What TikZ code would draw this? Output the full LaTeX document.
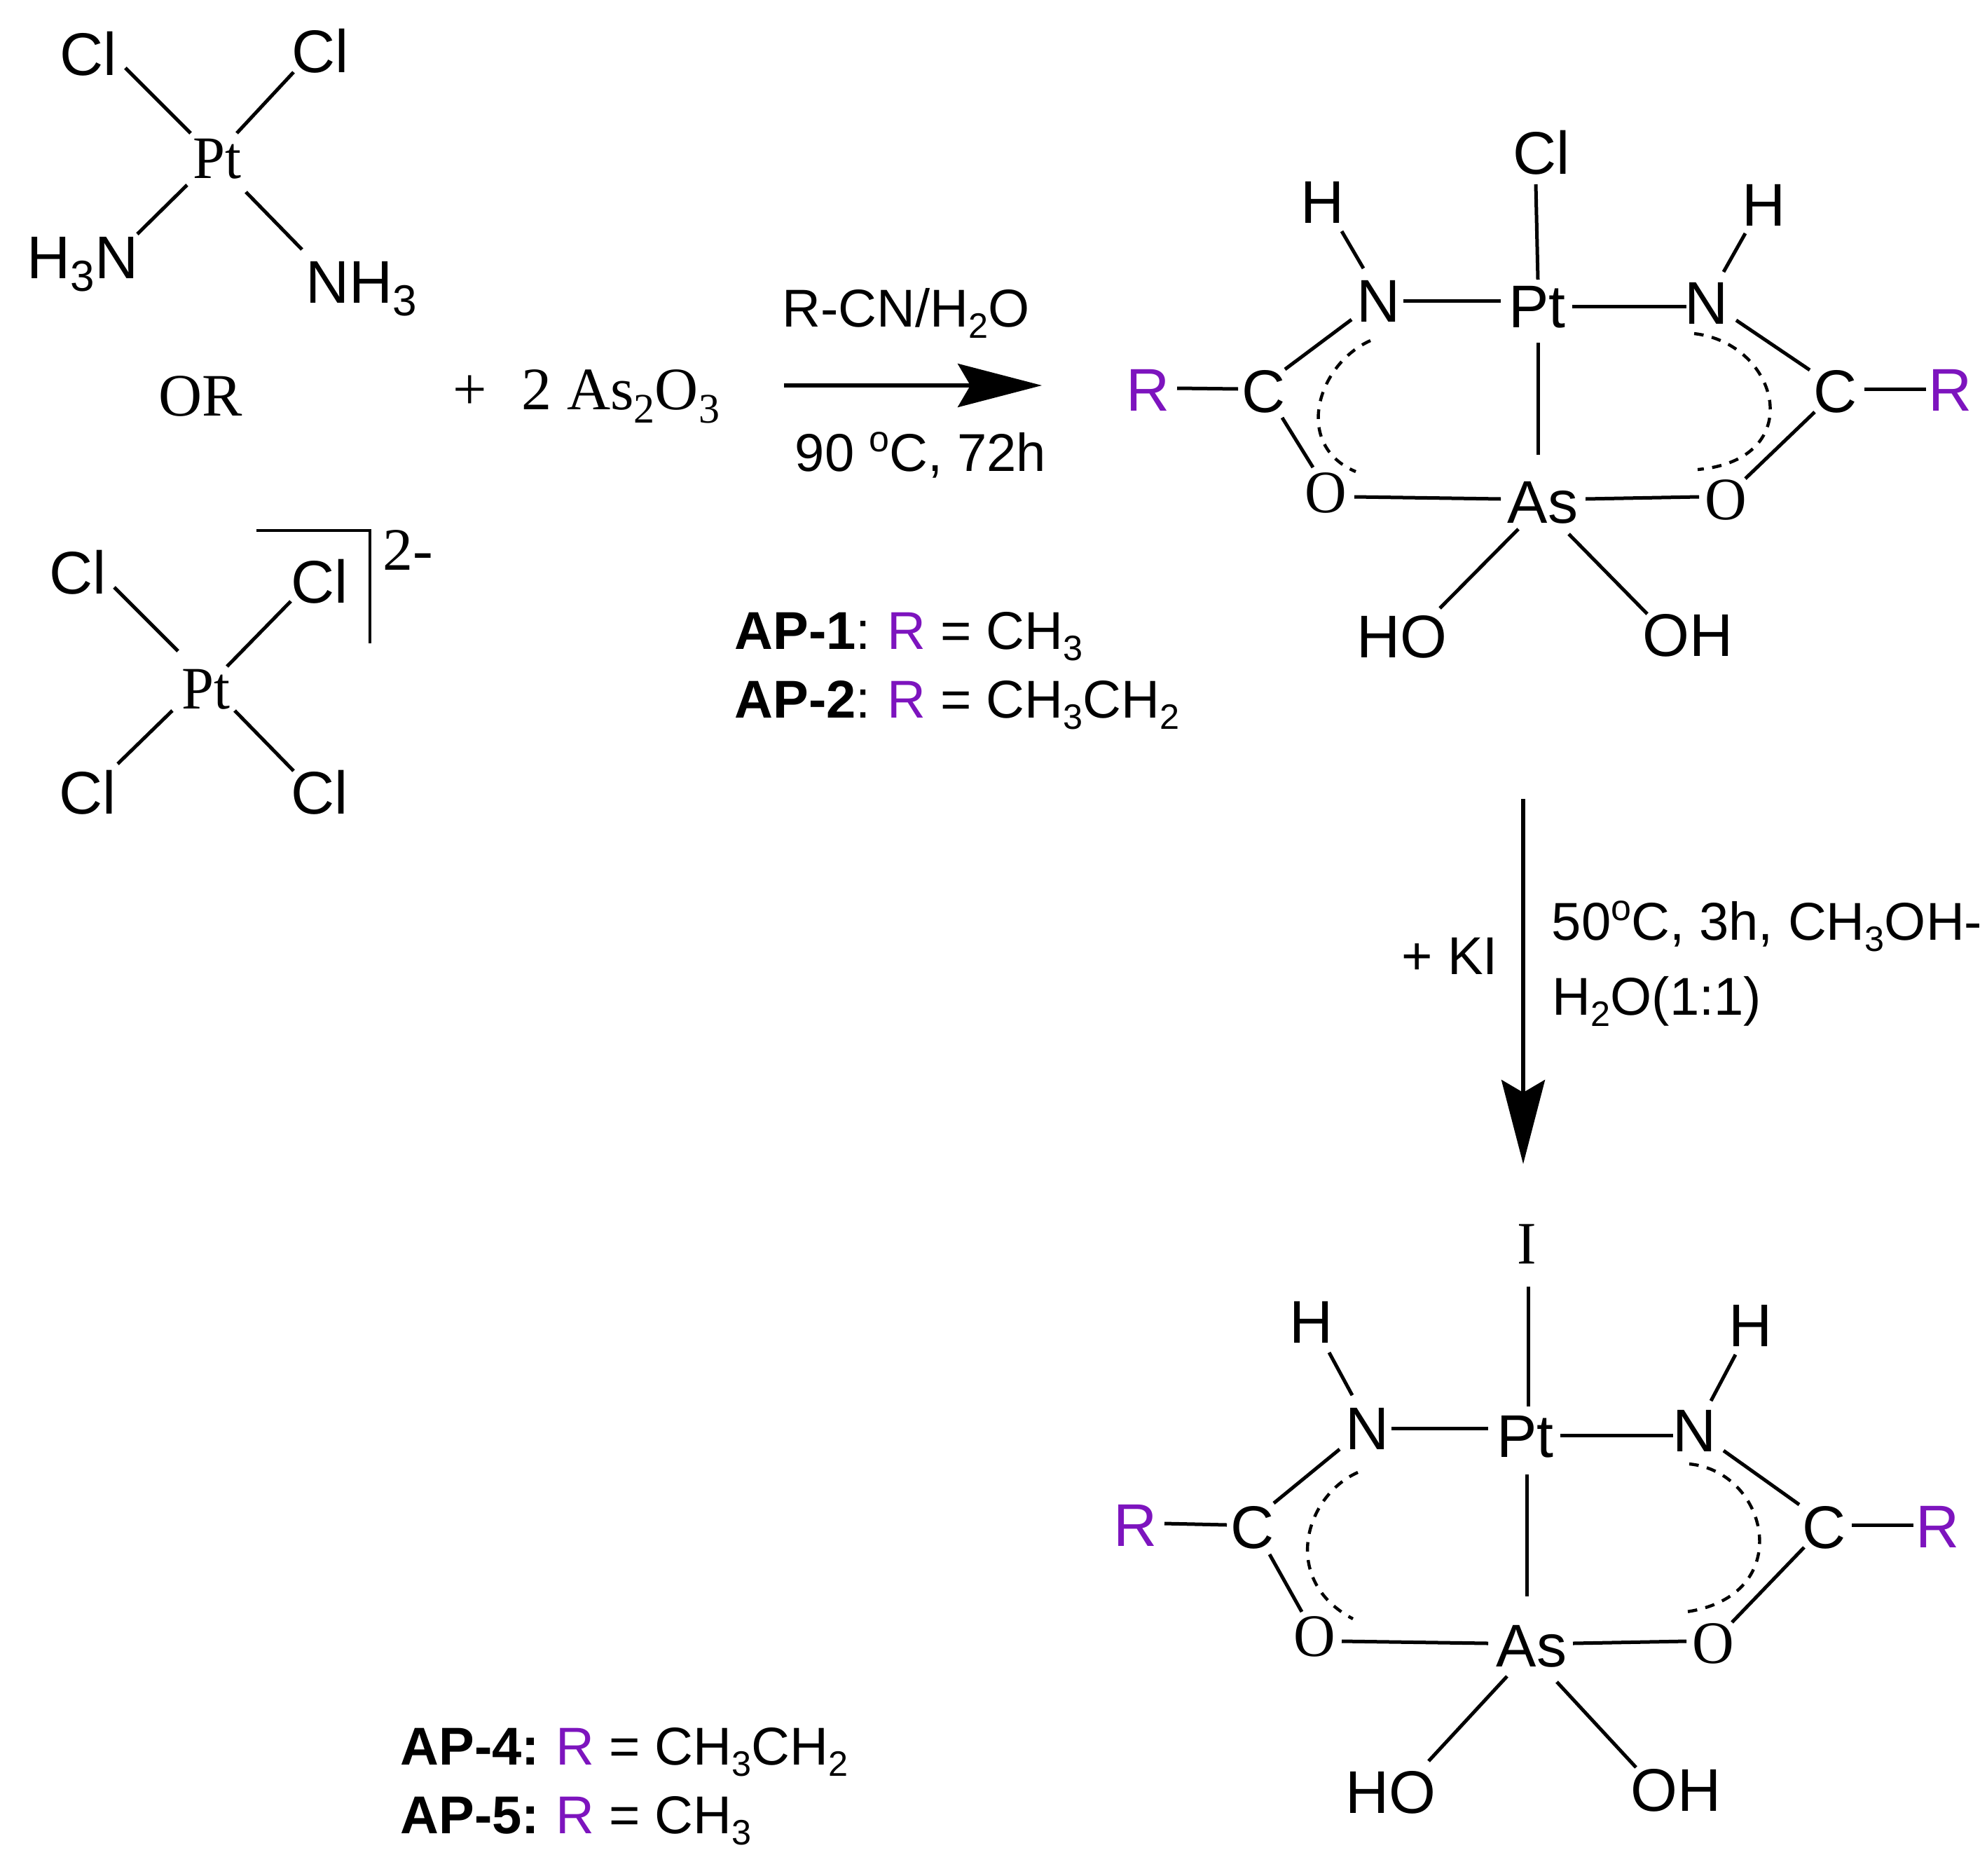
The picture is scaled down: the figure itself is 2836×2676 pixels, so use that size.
\documentclass[tikz,border=0pt]{standalone}
\usepackage{fontspec}
\setmainfont{Liberation Sans}
\newfontfamily\atomsansf{Liberation Sans}
\newfontfamily\atomseriff[FakeStretch=0.96]{Liberation Serif}
\newfontfamily\plainseriff{Liberation Serif}
\usetikzlibrary{calc,arrows.meta}
\definecolor{rpurple}{RGB}{125,20,190}
\newcommand\lsub[1]{\raisebox{-4pt}{\fontsize{12.6}{14}\selectfont #1}}
\newcommand\lsup[1]{\raisebox{6.9pt}{\fontsize{13}{14}\selectfont #1}}
\newcommand\asub[1]{\raisebox{-4.3pt}{\fontsize{15.5}{16}\selectfont #1}}
\newcommand\ssub[1]{\raisebox{-4.8pt}{\fontsize{15}{16}\selectfont #1}}
\newcommand\Rp{\hspace{-1.3pt}\textcolor{rpurple}{R}}
\tikzset{
  atom/.style={inner sep=0pt,anchor=center,text height=15.4pt,text depth=0pt,
    font=\atomsansf\fontsize{21.5}{25}\selectfont},
  atomr/.style={atom,text=rpurple},
  serifatom/.style={inner sep=0pt,anchor=center,text height=14.2pt,text depth=0pt,
    font=\atomseriff\fontsize{21.5}{25}\selectfont},
  lbl/.style={inner sep=0pt,anchor=base west,font=\fontsize{19}{22}\selectfont},
  seriflbl/.style={inner sep=0pt,font=\plainseriff\fontsize{21.5}{25}\selectfont},
  bond/.style={line width=1.25pt},
  arcbond/.style={line width=1.1pt,dash pattern=on 3.4pt off 3pt},
  rxnarrow/.style={line width=1.3pt,-{Stealth[length=30pt,width=15.5pt,inset=4.5pt]}},
  bracket/.style={line width=1.15pt}
}
\begin{document}
\begin{tikzpicture}[x=0.25pt,y=-0.25pt]
\useasboundingbox (0,0) rectangle (2836,2676);
\fill[white] (0,0) rectangle (2836,2676);
% cisplatin
\node[atom] (cl1) at (126,77) {Cl};
\node[atom] (cl2) at (457,73) {Cl};
\node[serifatom] (pt1) at (310,226) {Pt};
\node[atom] (hn1) at (118,367) {H\asub{3}N};
\node[atom] (nh1) at (516,402) {NH\asub{3}};
\draw[bond] ($(cl1)+(53,20)$) -- ($(pt1)+(-38,-36)$);
\draw[bond] ($(pt1)+(28,-36)$) -- ($(cl2)+(-38,30)$);
\draw[bond] ($(pt1)+(-43,38)$) -- ($(hn1)+(78,-33)$);
\draw[bond] ($(pt1)+(41,48)$) -- ($(nh1)+(-85,-46)$);
\node[seriflbl,anchor=base] (orl) at (286,593) {OR};
\node[seriflbl,anchor=base west] (reag) at (646,584) {+\hspace{12.4pt}2 As\ssub{2}O\ssub{3}};
% PtCl4
\node[atom] (cl3) at (111,817) {Cl};
\node[atom] (cl4) at (456,830) {Cl};
\node[serifatom] (pt2) at (294,983) {Pt};
\node[atom] (cl5) at (125,1131) {Cl};
\node[atom] (cl6) at (456,1131) {Cl};
\draw[bond] ($(cl3)+(52,21)$) -- ($(pt2)+(-40,-54)$);
\draw[bond] ($(pt2)+(30,-32)$) -- ($(cl4)+(-41,28)$);
\draw[bond] ($(pt2)+(-48,31)$) -- ($(cl5)+(43,-41)$);
\draw[bond] ($(pt2)+(41,31)$) -- ($(cl6)+(-37,-31)$);
\coordinate (br1) at (366,757);
\coordinate (br2) at (528,757);
\coordinate (br3) at (528,918);
\draw[bracket] (br1) -- (br2) -- (br3);
\node[seriflbl,anchor=base west] (chg) at (546,813) {2-};
% first arrow
\coordinate (a1s) at (1119,550);
\coordinate (a1e) at (1487,550);
\draw[rxnarrow] (a1s) -- (a1e);
\node[lbl] (c1t) at (1116,466) {R-CN/H\lsub{2}O};
\node[lbl] (c1b) at (1134,672) {90 \lsup{o}C, 72h};
\node[lbl] (ap1) at (1048,926) {\textbf{AP-1}: \Rp{} = CH\lsub{3}};
\node[lbl] (ap2) at (1048,1024) {\textbf{AP-2}: \Rp{} = CH\lsub{3}CH\lsub{2}};
% complex A
\node[atom] (cla) at (2200,218) {Cl};
\node[atom] (h1) at (1888,288) {H};
\node[atom] (n1) at (1968,429) {N};
\node[atom] (pta) at (2194,437) {Pt};
\node[atom] (n2) at (2436,432) {N};
\node[atom] (h2) at (2518,292) {H};
\node[atom] (c1) at (1804,558) {C};
\node[atomr] (r1) at (1639,556) {R};
\node[atom] (c2) at (2620,558) {C};
\node[atomr] (r2) at (2784,556) {R};
\node[serifatom] (o1) at (1892,703) {O};
\node[atom] (asa) at (2202,716) {As};
\node[serifatom] (o2) at (2463,713) {O};
\node[atom] (hoa) at (2001,908) {HO};
\node[atom] (oha) at (2409,906) {OH};
\draw[bond] ($(cla)+(-8,45)$) -- ($(pta)+(1,-38)$);
\draw[bond] ($(h1)+(27,42)$) -- ($(n1)+(-22,-46)$);
\draw[bond] ($(n1)+(35,0)$) -- ($(pta)+(-52,-8)$);
\draw[bond] ($(pta)+(50,0)$) -- ($(n2)+(-29,5)$);
\draw[bond] ($(h2)+(-27,41)$) -- ($(n2)+(24,-44)$);
\draw[bond] ($(n1)+(-39,27)$) -- ($(c1)+(30,-31)$);
\draw[bond] ($(n2)+(42,25)$) -- ($(c2)+(-37,-30)$);
\draw[bond] ($(r1)+(41,-2)$) -- ($(c1)+(-37,-3)$);
\draw[bond] ($(c2)+(41,-3)$) -- ($(r2)+(-35,-1)$);
\draw[bond] ($(c1)+(26,38)$) -- ($(o1)+(-18,-36)$);
\draw[bond] ($(c2)+(-30,30)$) -- ($(o2)+(28,-30)$);
\draw[bond] ($(o1)+(41,6)$) -- ($(asa)+(-60,-4)$);
\draw[bond] ($(asa)+(61,-4)$) -- ($(o2)+(-38,-4)$);
\draw[bond] ($(pta)+(1,52)$) -- ($(asa)+(-7,-67)$);
\draw[bond] ($(asa)+(-35,39)$) -- ($(hoa)+(54,-40)$);
\draw[bond] ($(asa)+(37,46)$) -- ($(oha)+(-58,-30)$);
\draw[arcbond] ($(n1)+(-12,57)$) .. controls (1880,520) and (1845,635) .. ($(o1)+(43,-30)$);
\draw[arcbond] ($(n2)+(-18,44)$) .. controls (2540,490) and (2582,656) .. ($(o2)+(-40,-43)$);
% second arrow
\coordinate (a2s) at (2174,1140);
\coordinate (a2e) at (2174,1661);
\draw[rxnarrow] (a2s) -- (a2e);
\node[lbl] (ki) at (2000,1390) {+ KI};
\node[lbl] (c2a) at (2214,1341) {50\lsup{o}C, 3h, CH\lsub{3}OH-};
\node[lbl] (c2b) at (2215,1448) {H\lsub{2}O(1:1)};
% complex B
\node[serifatom] (iod) at (2179,1775) {I};
\node[atom] (hb1) at (1872,1886) {H};
\node[atom] (nb1) at (1952,2038) {N};
\node[atom] (ptb) at (2177,2049) {Pt};
\node[atom] (nb2) at (2419,2041) {N};
\node[atom] (hb2) at (2499,1891) {H};
\node[atom] (cb1) at (1788,2179) {C};
\node[atomr] (rb1) at (1621,2176) {R};
\node[atom] (cb2) at (2604,2179) {C};
\node[atomr] (rb2) at (2766,2178) {R};
\node[serifatom] (ob1) at (1876,2335) {O};
\node[atom] (asb) at (2186,2348) {As};
\node[serifatom] (ob2) at (2445,2345) {O};
\node[atom] (hob) at (1985,2557) {HO};
\node[atom] (ohb) at (2392,2554) {OH};
\draw[bond] ($(iod)+(2,61)$) -- ($(ptb)+(4,-42)$);
\draw[bond] ($(hb1)+(25,44)$) -- ($(nb1)+(-22,-47)$);
\draw[bond] ($(nb1)+(34,0)$) -- ($(ptb)+(-53,-11)$);
\draw[bond] ($(ptb)+(50,-1)$) -- ($(nb2)+(-31,7)$);
\draw[bond] ($(hb2)+(-22,42)$) -- ($(nb2)+(23,-42)$);
\draw[bond] ($(nb1)+(-40,30)$) -- ($(cb1)+(30,-34)$);
\draw[bond] ($(nb2)+(41,29)$) -- ($(cb2)+(-36,-32)$);
\draw[bond] ($(rb1)+(41,-2)$) -- ($(cb1)+(-37,-3)$);
\draw[bond] ($(cb2)+(39,-3)$) -- ($(rb2)+(-35,-2)$);
\draw[bond] ($(cb1)+(24,39)$) -- ($(ob1)+(-18,-35)$);
\draw[bond] ($(cb2)+(-29,29)$) -- ($(ob2)+(27,-30)$);
\draw[bond] ($(ob1)+(39,7)$) -- ($(asb)+(-62,-3)$);
\draw[bond] ($(asb)+(59,-3)$) -- ($(ob2)+(-38,-3)$);
\draw[bond] ($(ptb)+(2,55)$) -- ($(asb)+(-7,-70)$);
\draw[bond] ($(asb)+(-35,44)$) -- ($(hob)+(54,-44)$);
\draw[bond] ($(asb)+(36,52)$) -- ($(ohb)+(-57,-32)$);
\draw[arcbond] ($(nb1)+(-14,63)$) .. controls (1862,2135) and (1827,2255) .. ($(ob1)+(55,-25)$);
\draw[arcbond] ($(nb2)+(-8,48)$) .. controls (2525,2100) and (2565,2277) .. ($(ob2)+(-38,-45)$);
\node[lbl] (ap4) at (571,2518) {\textbf{AP-4:} \Rp{} = CH\lsub{3}CH\lsub{2}};
\node[lbl] (ap5) at (571,2616) {\textbf{AP-5:} \Rp{} = CH\lsub{3}};
\end{tikzpicture}
\end{document}
